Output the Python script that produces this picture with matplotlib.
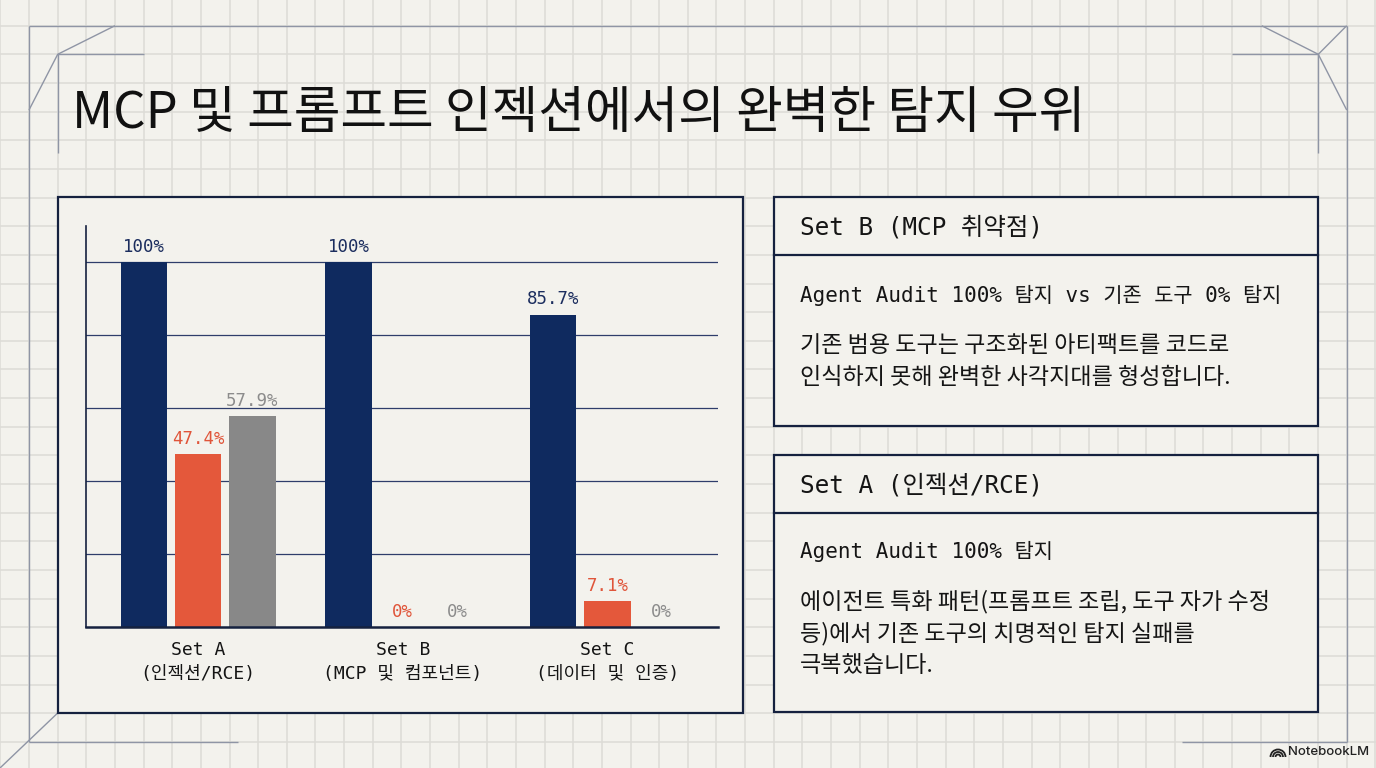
import matplotlib
matplotlib.use("Agg")
import matplotlib.pyplot as plt
from matplotlib.patches import Rectangle, Arc
import numpy as np

# data
categories = ["Set A\n(인젝션/RCE)", "Set B\n(MCP 및 컴포넌트)", "Set C\n(데이터 및 인증)"]
agent_audit = [100, 100, 85.7]
tool_orange = [47.4, 0, 7.1]
tool_gray = [57.9, 0, 0]

title = "MCP 및 프롬프트 인젝션에서의 완벽한 탐지 우위"
box_titles = ["Set B (MCP 취약점)", "Set A (인젝션/RCE)"]
box_leads = ["Agent Audit 100% 탐지 vs 기존 도구 0% 탐지", "Agent Audit 100% 탐지"]
box_bodies = [
    ["기존 범용 도구는 구조화된 아티팩트를 코드로", "인식하지 못해 완벽한 사각지대를 형성합니다."],
    ["에이전트 특화 패턴(프롬프트 조립, 도구 자가 수정", "등)에서 기존 도구의 치명적인 탐지 실패를", "극복했습니다."],
]

BG = "#f3f2ed"
GRID = "#dcdbd6"
NAVY = "#0f2a5f"
ORANGE = "#e4583b"
GRAY = "#888888"
BORDER = "#15213f"
FRAME = "#8f95a5"
MONO = ["DejaVu Sans Mono", "Noto Sans CJK KR"]
SANS = ["Noto Sans CJK KR", "DejaVu Sans"]

W, H = 1376, 768
fig = plt.figure(figsize=(W / 100, H / 100), dpi=100, facecolor=BG)
bg = fig.add_axes([0, 0, 1, 1])
bg.set_xlim(0, W)
bg.set_ylim(H, 0)
bg.axis("off")
bg.set_facecolor(BG)

# grid paper
step = 28.645
for k in range(-1, 49):
    bg.axvline(29 + k * step, color=GRID, lw=1.1, zorder=0)
    bg.axhline(25.7 + k * step, color=GRID, lw=1.1, zorder=0)

# frame lines
def seg(pts):
    xs, ys = zip(*pts)
    bg.plot(xs, ys, color=FRAME, lw=1.0, zorder=1, solid_capstyle="butt")

seg([(29, 25.7), (1346.7, 25.7)])
seg([(29, 25.7), (29, 741.7)])
seg([(1346.7, 25.7), (1346.7, 741.7)])
seg([(29, 741.7), (238, 741.7)])
seg([(1181.7, 741.7), (1346.7, 741.7)])
seg([(29, 110), (57.7, 54.3), (115, 25.7)])
seg([(144, 54.3), (57.7, 54.3), (57.7, 153)])
seg([(1261.7, 25.7), (1318.3, 54.3), (1346.7, 110)])
seg([(1318.3, 54.3), (1346.7, 25.7)])
seg([(1232, 54.3), (1318.3, 54.3), (1318.3, 153)])
seg([(0, 768), (57.7, 713)])

# title
bg.text(72, 128, title, fontsize=36.5, family=SANS, color="#111111", va="baseline", ha="left", zorder=3)

# panels
def panel(x0, y0, x1, y1):
    bg.add_patch(Rectangle((x0, y0), x1 - x0, y1 - y0, facecolor=BG, edgecolor=BORDER, lw=1.6, zorder=2))

panel(58, 197, 743, 713)
panel(774, 197, 1318, 426)
panel(774, 455, 1318, 712)
bg.plot([774, 1318], [255, 255], color=BORDER, lw=1.6, zorder=3)
bg.plot([774, 1318], [513, 513], color=BORDER, lw=1.6, zorder=3)

# right boxes text
title_y = [227, 485]
lead_y = [295, 551.5]
body_y = [[345, 377], [601.5, 633.5, 665.5]]
for i in range(2):
    bg.text(800, title_y[i], box_titles[i], fontsize=17.6, family=MONO, color="#151515", va="center", ha="left", zorder=4)
    bg.text(800, lead_y[i], box_leads[i], fontsize=15, family=MONO, color="#151515", va="center", ha="left", zorder=4)
    for line, y in zip(box_bodies[i], body_y[i]):
        bg.text(800, y, line, fontsize=16.6, family=SANS, weight=500, color="#151515", va="center", ha="left", zorder=4)

# bar chart
ax = fig.add_axes([85.7 / W, (H - 627) / H, (718 - 85.7) / W, (627 - 226) / H], zorder=5)
ax.patch.set_alpha(0)
x = np.arange(len(categories))
off, bw = 0.265, 0.227
series = [(agent_audit, -off, NAVY, "#1b2d5e"), (tool_orange, 0, ORANGE, "#e0553a"), (tool_gray, off, GRAY, "#8c8c8c")]
for vals, dx, col, lcol in series:
    ax.bar(x + dx, vals, width=bw, color=col, zorder=3)
    for xi, v in zip(x + dx, vals):
        ax.annotate(f"{v:g}%", (xi, v), xytext=(0, 11), textcoords="offset points",
                    ha="center", va="center", fontsize=12.5, family=MONO, color=lcol, zorder=4)

ax.set_xlim(-0.549, 2.54)
ax.set_ylim(0, 110)
ax.set_yticks([20, 40, 60, 80, 100])
ax.yaxis.grid(True, color="#2e3d6b", lw=0.9, zorder=0)
ax.tick_params(axis="y", length=0, labelleft=False)
ax.set_xticks(x)
ax.set_xticklabels(categories, family=MONO, fontsize=13, color="#151515", linespacing=1.45)
ax.tick_params(axis="x", length=0, pad=10)
for s in ["top", "right"]:
    ax.spines[s].set_visible(False)
ax.spines["left"].set_color(BORDER)
ax.spines["left"].set_linewidth(1.2)
ax.spines["bottom"].set_color(BORDER)
ax.spines["bottom"].set_linewidth(1.8)
ax.spines["bottom"].set_zorder(6)

# logo
for r in (2.5, 5, 7.5):
    bg.add_patch(Arc((1278, 757), 2 * r, 2 * r, theta1=180, theta2=360, color="#222222", lw=1.3, zorder=4))
bg.text(1288, 752, "NotebookLM", fontsize=9.5, family=["Inter", "DejaVu Sans"], weight="medium",
        color="#222222", va="center", ha="left", zorder=4)

fig.savefig("out.png", dpi=100, facecolor=BG)
